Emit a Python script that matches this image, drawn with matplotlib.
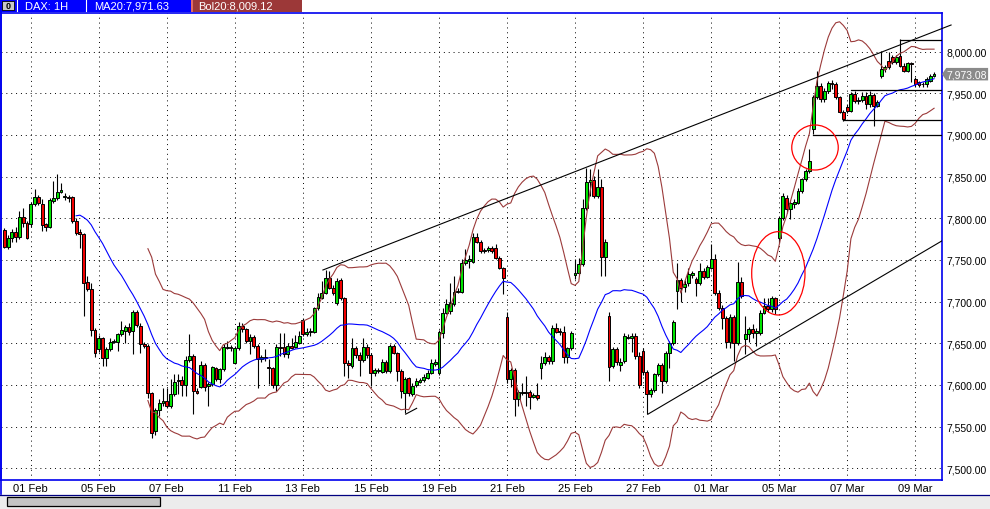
import numpy as np
import pandas as pd
import matplotlib
matplotlib.use('Agg')
import matplotlib.pyplot as plt
import matplotlib.transforms as mtransforms
from matplotlib.patches import Ellipse, Rectangle, Polygon
from matplotlib.lines import Line2D

plt.rcParams['font.family'] = ['Liberation Sans', 'DejaVu Sans']

# DAX hourly candles, one entry per bar (bar 0 = first bar on screen)
opens = [7786, 7766, 7776, 7783, 7778, 7802, 7794, 7793, 7817, 7826,
         7817, 7793, 7790, 7821, 7824, 7832, 7826, 7826, 7825, 7797,
         7784, 7781, 7723, 7715, 7666, 7643, 7656, 7632, 7643, 7652,
         7652, 7661, 7665, 7669, 7665, 7688, 7671, 7649, 7647, 7590,
         7545, 7570, 7578, 7581, 7575, 7589, 7605, 7606, 7600, 7630,
         7635, 7593, 7598, 7624, 7599, 7601, 7620, 7607, 7619, 7645,
         7646, 7627, 7644, 7671, 7667, 7653, 7658, 7647, 7631, 7633,
         7622, 7620, 7600, 7646, 7645, 7637, 7647, 7646, 7651, 7678,
         7661, 7664, 7664, 7692, 7705, 7711, 7729, 7717, 7698, 7726,
         7704, 7627, 7623, 7644, 7636, 7630, 7646, 7636, 7614, 7617,
         7616, 7628, 7617, 7647, 7638, 7617, 7591, 7608, 7589, 7600,
         7604, 7606, 7609, 7615, 7625, 7614, 7663, 7687, 7689, 7697,
         7712, 7712, 7746, 7749, 7748, 7777, 7772, 7762, 7762, 7764,
         7764, 7753, 7740, 7681, 7607, 7618, 7583, 7591, 7592, 7592,
         7586, 7588, 7620, 7626, 7634, 7629, 7668, 7664, 7663, 7634,
         7644, 7732, 7734, 7745, 7812, 7844, 7846, 7827, 7837, 7754,
         7683, 7623, 7643, 7624, 7629, 7657, 7657, 7659, 7635, 7641,
         7616, 7589, 7594, 7613, 7624, 7605, 7638, 7650, 7713, 7726,
         7718, 7722, 7732, 7727, 7722, 7737, 7730, 7741, 7751, 7711,
         7693, 7680, 7652, 7682, 7650, 7723, 7655, 7661, 7667, 7663,
         7663, 7687, 7695, 7691, 7704, 7776, 7800, 7824, 7811, 7817,
         7819, 7833, 7847, 7857, 7907, 7945, 7959, 7943, 7953, 7962,
         7961, 7945, 7928, 7933, 7929, 7949, 7941, 7942, 7947, 7937,
         7948, 7935, 7971, 7979, 7989, 7993, 7987, 7995, 7983, 7977,
         7986, 7967, 7963, 7961, 7961, 7965, 7971]
highs = [7788, 7780, 7787, 7790, 7809, 7813, 7797, 7820, 7835, 7828,
         7823, 7795, 7824, 7845, 7853, 7843, 7830, 7828, 7827, 7800,
         7787, 7783, 7731, 7723, 7668, 7660, 7658, 7646, 7657, 7655,
         7663, 7677, 7672, 7675, 7690, 7690, 7674, 7652, 7649, 7592,
         7573, 7583, 7597, 7597, 7607, 7613, 7613, 7611, 7635, 7661,
         7637, 7597, 7629, 7626, 7604, 7623, 7622, 7621, 7649, 7653,
         7648, 7647, 7676, 7674, 7669, 7661, 7660, 7649, 7636, 7643,
         7631, 7622, 7649, 7662, 7662, 7650, 7657, 7660, 7665, 7680,
         7668, 7668, 7694, 7710, 7725, 7738, 7737, 7720, 7728, 7729,
         7706, 7630, 7657, 7647, 7640, 7657, 7649, 7638, 7621, 7621,
         7631, 7630, 7649, 7649, 7640, 7619, 7610, 7610, 7602, 7608,
         7609, 7613, 7618, 7631, 7631, 7666, 7693, 7703, 7723, 7731,
         7716, 7751, 7763, 7756, 7783, 7783, 7774, 7765, 7767, 7767,
         7769, 7755, 7742, 7688, 7621, 7620, 7594, 7602, 7611, 7594,
         7590, 7603, 7635, 7640, 7636, 7672, 7675, 7668, 7671, 7646,
         7665, 7751, 7753, 7823, 7861, 7859, 7851, 7859, 7847, 7775,
         7688, 7646, 7646, 7632, 7662, 7661, 7662, 7662, 7640, 7645,
         7618, 7597, 7615, 7626, 7626, 7641, 7653, 7678, 7747, 7729,
         7726, 7740, 7737, 7730, 7747, 7740, 7744, 7769, 7757, 7714,
         7696, 7683, 7685, 7684, 7748, 7730, 7683, 7670, 7673, 7668,
         7690, 7705, 7705, 7707, 7706, 7803, 7830, 7828, 7822, 7823,
         7836, 7849, 7859, 7883, 7948, 7977, 7962, 7956, 7965, 7966,
         7963, 7947, 7930, 7937, 7951, 7953, 7945, 7951, 7952, 7953,
         7950, 7942, 8001, 7984, 7999, 7996, 7996, 8015, 7986, 7988,
         7988, 7970, 7965, 7963, 7969, 7973, 7975]
lows = [7764, 7763, 7772, 7772, 7775, 7790, 7775, 7790, 7815, 7816,
        7785, 7785, 7788, 7818, 7822, 7830, 7822, 7820, 7795, 7780,
        7764, 7683, 7713, 7659, 7634, 7640, 7623, 7623, 7641, 7650,
        7641, 7659, 7651, 7660, 7637, 7670, 7639, 7644, 7585, 7537,
        7540, 7563, 7575, 7573, 7572, 7587, 7589, 7587, 7587, 7628,
        7565, 7589, 7596, 7593, 7575, 7599, 7605, 7603, 7617, 7643,
        7641, 7625, 7642, 7664, 7650, 7637, 7645, 7597, 7628, 7629,
        7601, 7597, 7593, 7635, 7634, 7633, 7643, 7644, 7649, 7659,
        7659, 7659, 7662, 7690, 7703, 7709, 7715, 7708, 7696, 7702,
        7611, 7609, 7621, 7633, 7611, 7628, 7633, 7599, 7611, 7614,
        7614, 7615, 7615, 7637, 7605, 7585, 7566, 7587, 7587, 7598,
        7602, 7604, 7607, 7613, 7623, 7612, 7657, 7685, 7685, 7695,
        7710, 7710, 7744, 7741, 7746, 7770, 7759, 7758, 7760, 7758,
        7751, 7739, 7709, 7603, 7598, 7563, 7575, 7588, 7575, 7571,
        7584, 7582, 7607, 7624, 7625, 7625, 7662, 7660, 7627, 7627,
        7642, 7727, 7732, 7743, 7810, 7827, 7825, 7824, 7731, 7731,
        7605, 7620, 7624, 7617, 7627, 7655, 7640, 7631, 7597, 7612,
        7565, 7586, 7592, 7611, 7591, 7603, 7620, 7648, 7691, 7700,
        7712, 7719, 7729, 7707, 7720, 7727, 7728, 7739, 7708, 7690,
        7667, 7645, 7645, 7629, 7648, 7704, 7637, 7652, 7657, 7647,
        7660, 7685, 7688, 7688, 7685, 7770, 7798, 7806, 7799, 7813,
        7817, 7830, 7845, 7855, 7901, 7943, 7940, 7940, 7950, 7955,
        7943, 7926, 7917, 7926, 7927, 7938, 7937, 7939, 7931, 7933,
        7911, 7933, 7968, 7976, 7979, 7985, 7985, 7981, 7975, 7975,
        7963, 7957, 7957, 7958, 7957, 7963, 7969]
closes = [7766, 7776, 7783, 7778, 7802, 7794, 7776, 7817, 7826, 7818,
          7792, 7790, 7822, 7824, 7832, 7834, 7827, 7824, 7797, 7783,
          7781, 7723, 7715, 7666, 7638, 7656, 7632, 7643, 7652, 7653,
          7661, 7666, 7669, 7664, 7688, 7672, 7649, 7647, 7591, 7543,
          7570, 7578, 7581, 7575, 7589, 7603, 7606, 7600, 7630, 7635,
          7593, 7591, 7624, 7598, 7601, 7621, 7607, 7619, 7646, 7646,
          7644, 7644, 7671, 7667, 7653, 7658, 7647, 7631, 7633, 7632,
          7620, 7600, 7646, 7645, 7637, 7647, 7645, 7651, 7659, 7661,
          7664, 7665, 7692, 7705, 7711, 7729, 7717, 7711, 7725, 7704,
          7627, 7624, 7644, 7636, 7630, 7646, 7636, 7614, 7618, 7618,
          7628, 7617, 7647, 7639, 7617, 7593, 7607, 7590, 7599, 7605,
          7606, 7610, 7615, 7626, 7627, 7663, 7687, 7697, 7698, 7712,
          7713, 7746, 7750, 7751, 7777, 7772, 7761, 7761, 7764, 7761,
          7753, 7741, 7729, 7607, 7618, 7583, 7591, 7592, 7591, 7586,
          7588, 7584, 7626, 7634, 7629, 7668, 7664, 7665, 7634, 7644,
          7662, 7734, 7745, 7812, 7844, 7846, 7827, 7837, 7754, 7772,
          7622, 7643, 7628, 7628, 7659, 7658, 7659, 7635, 7600, 7616,
          7589, 7594, 7613, 7624, 7605, 7638, 7650, 7676, 7726, 7717,
          7721, 7733, 7734, 7722, 7737, 7730, 7741, 7751, 7711, 7693,
          7681, 7652, 7682, 7650, 7723, 7707, 7661, 7667, 7663, 7665,
          7687, 7695, 7691, 7704, 7691, 7800, 7827, 7811, 7818, 7820,
          7833, 7847, 7857, 7869, 7945, 7959, 7943, 7953, 7962, 7961,
          7945, 7928, 7919, 7929, 7949, 7941, 7942, 7947, 7937, 7948,
          7935, 7939, 7979, 7981, 7981, 7987, 7993, 7983, 7977, 7986,
          7985, 7961, 7960, 7961, 7967, 7971, 7973]

tickBars = [7, 25, 43, 61, 79, 97, 115, 133, 151, 169, 187, 205, 223, 241]
tickLabels = ['01 Feb', '05 Feb', '07 Feb', '11 Feb', '13 Feb', '15 Feb', '19 Feb',
              '21 Feb', '25 Feb', '27 Feb', '01 Mar', '05 Mar', '07 Mar', '09 Mar']
priceLevels = [7500, 7550, 7600, 7650, 7700, 7750, 7800, 7850, 7900, 7950, 8000]

maPeriod = 20
bandFirstBar = 38   # the bands are only drawn from here on

# hand drawn objects, given as (bar, price)
upperTrendBars = [84.3, 250.5]
upperTrendPrices = [7738, 8032]
lowerTrendBars = [170.3, 248.1]
lowerTrendPrices = [7565, 7773]
smallLineBars = [106.2, 109.1]
smallLinePrices = [7565, 7572]
levelStartBars = [237, 224, 222, 214]
levelPrices = [8014, 7954, 7918, 7900]
circleCenters = [(214.5, 7885), (204.8, 7734)]
circleSizes = [(12.3, 54), (14.1, 100)]

headerTitle = 'DAX: 1H'
headerMA = 'MA20:7,971.63'
headerBol = 'Bol20:8,009.12'
lastPriceText = '7,973.08'

W, H = 990, 510
BLUE = '#0000ee'
BROWN = '#9b3a3a'


def figx(x):
    return x / W


def figy(y):
    # y measured from the top of the picture
    return 1 - y / H


fig = plt.figure(figsize=(W / 100, H / 100), dpi=100)
fig.patch.set_facecolor('white')
ax = fig.add_axes([figx(1), figy(481), figx(941), 467 / H])
ax.set_facecolor('white')

o = np.array(opens, float)
hi = np.array(highs, float)
lo = np.array(lows, float)
c = np.array(closes, float)
idx = np.arange(len(c))

# candles
up = c >= o
bodyColors = np.where(up, '#00e400', '#f00000')
ax.vlines(idx, lo, hi, color='black', linewidth=0.8, zorder=2)
ax.bar(idx, np.abs(c - o), bottom=np.minimum(o, c), width=0.76,
       color=bodyColors, edgecolor='black', linewidth=0.7, zorder=3)

# moving average and bollinger bands from the closes
closeSeries = pd.Series(c)
ma = closeSeries.rolling(maPeriod).mean()
sd = closeSeries.rolling(maPeriod).std(ddof=0)
upperBand = ma + 2 * sd
lowerBand = ma - 2 * sd
ax.plot(idx, ma, color='#0000ff', linewidth=0.8, zorder=4)
ax.plot(idx[bandFirstBar:], upperBand[bandFirstBar:], color=BROWN, linewidth=0.8, zorder=4)
ax.plot(idx[bandFirstBar:], lowerBand[bandFirstBar:], color=BROWN, linewidth=0.8, zorder=4)

# drawings
ax.plot(upperTrendBars, upperTrendPrices, color='black', linewidth=0.8, zorder=5, clip_on=False)
ax.plot(lowerTrendBars, lowerTrendPrices, color='black', linewidth=0.8, zorder=5)
ax.plot(smallLineBars, smallLinePrices, color='black', linewidth=0.8, zorder=5)
for startBar, level in zip(levelStartBars, levelPrices):
    ax.plot([startBar, 249], [level, level], color='black', linewidth=0.9, zorder=5)
for center, size in zip(circleCenters, circleSizes):
    ax.add_patch(Ellipse(center, size[0], size[1], fill=False, edgecolor='#ff0000',
                         linewidth=0.9, zorder=6))

# axes look
ax.set_xlim(-0.87, 248.1)
ax.set_ylim(7486.0, 8046.4)
ax.set_xticks(tickBars)
ax.set_xticklabels(tickLabels)
ax.yaxis.tick_right()
ax.set_yticks(priceLevels)
ax.set_yticklabels([f'{v:,.2f}' for v in priceLevels])
ax.tick_params(axis='x', length=0, pad=2.5, labelsize=8)
ax.tick_params(axis='y', length=0, pad=3, labelsize=7.5)
ax.grid(True, color='black', linestyle=(0, (1, 4)), linewidth=0.7, zorder=1)
ax.set_axisbelow(True)
for side in ['left', 'right', 'top', 'bottom']:
    ax.spines[side].set_color(BLUE)
    ax.spines[side].set_linewidth(1.2)

# last price tag on the price scale
tagTrans = mtransforms.blended_transform_factory(ax.transAxes, ax.transData)
last = c[-1]
tag = Polygon([(1.0, last), (1.0045, last + 7.5), (1.049, last + 7.5),
               (1.049, last - 7.5), (1.0045, last - 7.5)], closed=True,
              transform=tagTrans, facecolor='#8a8a8a', edgecolor='none', clip_on=False, zorder=7)
ax.add_patch(tag)
ax.text(1.0045, last, lastPriceText, transform=tagTrans, color='white', fontsize=7.5,
        va='center', ha='left', zorder=8, clip_on=False)

# header bar
fig.add_artist(Rectangle((0, figy(13)), figx(191), 13 / H, transform=fig.transFigure,
                         facecolor='#0000ff', edgecolor='none'))
fig.add_artist(Rectangle((figx(191), figy(13)), figx(111), 13 / H, transform=fig.transFigure,
                         facecolor='#9c3838', edgecolor='none'))
fig.add_artist(Rectangle((figx(191), figy(13)), figx(2), 13 / H, transform=fig.transFigure,
                         facecolor='#e06a6a', edgecolor='none'))
fig.add_artist(Rectangle((figx(2), figy(11)), figx(12), 9 / H, transform=fig.transFigure,
                         facecolor='#c8c8c8', edgecolor='black', linewidth=0.6))
fig.text(figx(8), figy(6.5), '0', color='black', fontsize=6.5, ha='center', va='center',
         fontweight='bold')
for sx in [17, 86]:
    fig.add_artist(Line2D([figx(sx), figx(sx)], [figy(1), figy(12)], color='white', linewidth=0.8))
fig.text(figx(25), figy(6.8), headerTitle, color='white', fontsize=8, va='center')
fig.text(figx(94), figy(6.8), headerMA, color='white', fontsize=8, va='center')
fig.text(figx(198), figy(6.8), headerBol, color='white', fontsize=8, va='center')

# window frame and scroll bar at the bottom
fig.add_artist(Line2D([figx(0.5), figx(0.5)], [figy(0), figy(495)], color=BLUE, linewidth=1.2))
fig.add_artist(Rectangle((0, 0), 1, 14.5 / H, transform=fig.transFigure,
                         facecolor='#ececec', edgecolor='none'))
fig.add_artist(Line2D([0, 1], [figy(495.5), figy(495.5)], color='#000080', linewidth=0.9))
fig.add_artist(Rectangle((figx(7), figy(507)), figx(153), 9 / H, transform=fig.transFigure,
                         facecolor='#c4c4c4', edgecolor='black', linewidth=0.9))

fig.savefig('out.png', dpi=100)
